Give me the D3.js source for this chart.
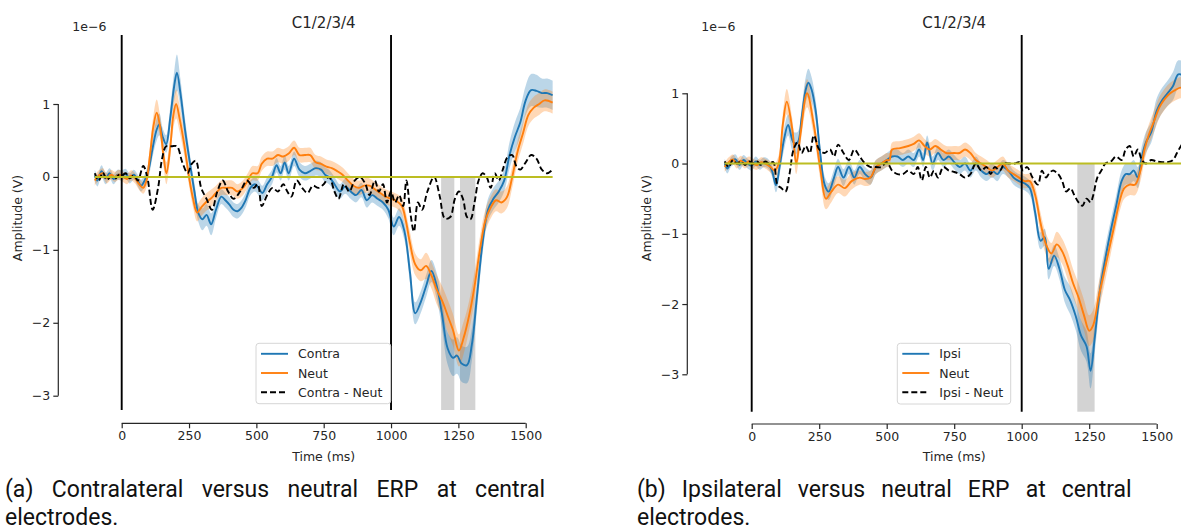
<!DOCTYPE html>
<html>
<head>
<meta charset="utf-8">
<script src="https://cdn.jsdelivr.net/npm/d3@7"></script>
<style>
	body { margin: 0; background: #fff; }
	svg { display: block; }
</style>
</head>
<body>
<svg id="fig" width="1181" height="531"></svg>
<script>
"use strict"

// values in 1e-6 V, [time ms, mean, half width of shaded band]
var contraPts = [
	[-100, 0.02, 0.08], [-90, -0.05, 0.08], [-75, 0.08, 0.08], [-60, -0.02, 0.08], [-45, 0.05, 0.07], [-30, -0.03, 0.07],
	[-15, 0.03, 0.07], [0, 0.02, 0.07], [15, 0.04, 0.07], [30, -0.02, 0.07], [45, 0.03, 0.07], [60, -0.05, 0.08],
	[72, -0.12, 0.08], [85, -0.05, 0.08], [100, 0.1, 0.1], [115, 0.4, 0.12], [130, 0.65, 0.15], [140, 0.72, 0.15],
	[152, 0.55, 0.12], [165, 0.45, 0.12], [180, 0.8, 0.15], [195, 1.25, 0.2], [205, 1.43, 0.25], [218, 1.15, 0.2],
	[235, 0.65, 0.15], [255, 0.15, 0.12], [270, -0.2, 0.12], [285, -0.5, 0.12], [300, -0.58, 0.15], [315, -0.52, 0.15],
	[332, -0.65, 0.15], [350, -0.45, 0.12], [370, -0.27, 0.1], [385, -0.32, 0.1], [400, -0.38, 0.1], [415, -0.45, 0.1],
	[430, -0.47, 0.1], [445, -0.42, 0.1], [460, -0.32, 0.1], [478, -0.15, 0.1], [495, -0.1, 0.1], [508, -0.15, 0.1],
	[522, -0.22, 0.1], [540, -0.1, 0.1], [558, 0.0, 0.1], [575, 0.16, 0.1], [590, 0.05, 0.1], [605, 0.2, 0.1],
	[620, 0.05, 0.1], [640, 0.25, 0.1], [660, 0.1, 0.1], [680, 0.05, 0.1], [700, 0.08, 0.1], [720, 0.12, 0.1],
	[740, 0.1, 0.1], [755, 0.03, 0.1], [770, 0.0, 0.1], [790, -0.1, 0.1], [810, -0.2, 0.1], [830, -0.13, 0.1],
	[850, -0.2, 0.1], [870, -0.25, 0.1], [890, -0.18, 0.1], [910, -0.32, 0.1], [930, -0.25, 0.1], [950, -0.3, 0.1],
	[970, -0.35, 0.1], [990, -0.45, 0.12], [1010, -0.68, 0.12], [1030, -0.55, 0.12], [1050, -0.75, 0.12], [1070, -1.3, 0.15],
	[1090, -1.87, 0.15], [1110, -1.72, 0.15], [1130, -1.5, 0.15], [1150, -1.29, 0.15], [1170, -1.5, 0.18], [1190, -1.9, 0.2],
	[1210, -2.35, 0.22], [1230, -2.48, 0.25], [1245, -2.45, 0.25], [1262, -2.56, 0.25], [1282, -2.58, 0.25], [1300, -2.3, 0.22],
	[1320, -1.6, 0.2], [1340, -0.9, 0.15], [1360, -0.45, 0.15], [1380, -0.3, 0.15], [1400, -0.2, 0.15], [1420, -0.05, 0.15],
	[1440, 0.3, 0.18], [1460, 0.55, 0.2], [1480, 0.75, 0.2], [1500, 1.05, 0.2], [1520, 1.19, 0.22], [1540, 1.18, 0.22],
	[1560, 1.15, 0.2], [1580, 1.15, 0.2], [1600, 1.12, 0.2]
];
var neutPtsA = [
	[-100, -0.05, 0.07], [-85, 0.02, 0.07], [-70, 0.05, 0.07], [-55, -0.02, 0.07], [-40, 0.03, 0.07], [-25, 0.0, 0.07],
	[-10, 0.03, 0.07], [5, 0.0, 0.07], [20, -0.03, 0.07], [35, 0.02, 0.07], [50, -0.02, 0.07], [65, -0.1, 0.08],
	[80, -0.15, 0.08], [92, -0.05, 0.1], [105, 0.3, 0.12], [118, 0.7, 0.15], [130, 0.88, 0.18], [142, 0.7, 0.15],
	[155, 0.3, 0.15], [166, 0.05, 0.15], [180, 0.4, 0.15], [192, 0.85, 0.18], [202, 1.0, 0.2], [215, 0.8, 0.18],
	[232, 0.45, 0.15], [250, 0.0, 0.12], [265, -0.3, 0.12], [280, -0.49, 0.12], [295, -0.42, 0.12], [312, -0.35, 0.12],
	[330, -0.3, 0.12], [350, -0.22, 0.1], [370, -0.15, 0.1], [390, -0.15, 0.1], [410, -0.15, 0.1], [430, -0.2, 0.1],
	[450, -0.15, 0.1], [468, -0.05, 0.1], [485, 0.05, 0.1], [505, 0.05, 0.1], [520, 0.18, 0.1], [540, 0.25, 0.1],
	[560, 0.25, 0.1], [580, 0.3, 0.1], [600, 0.28, 0.1], [620, 0.32, 0.1], [640, 0.4, 0.1], [660, 0.3, 0.1],
	[680, 0.3, 0.1], [700, 0.3, 0.1], [720, 0.2, 0.1], [740, 0.18, 0.1], [760, 0.14, 0.1], [780, 0.12, 0.1],
	[800, 0.08, 0.1], [820, 0.03, 0.1], [840, -0.05, 0.1], [860, -0.12, 0.1], [880, -0.15, 0.1], [900, -0.12, 0.1],
	[920, -0.12, 0.1], [940, -0.17, 0.1], [960, -0.22, 0.1], [980, -0.27, 0.1], [1000, -0.3, 0.1], [1020, -0.33, 0.1],
	[1040, -0.4, 0.12], [1055, -0.6, 0.12], [1070, -0.9, 0.15], [1090, -1.2, 0.15], [1110, -1.28, 0.15], [1130, -1.22, 0.18],
	[1150, -1.35, 0.18], [1170, -1.55, 0.2], [1190, -1.7, 0.2], [1210, -1.9, 0.22], [1230, -2.1, 0.22], [1252, -2.38, 0.22],
	[1270, -2.2, 0.22], [1290, -1.9, 0.2], [1310, -1.5, 0.2], [1330, -1.0, 0.18], [1350, -0.6, 0.15], [1370, -0.42, 0.15],
	[1390, -0.32, 0.15], [1410, -0.35, 0.15], [1430, -0.28, 0.15], [1450, 0.0, 0.15], [1470, 0.35, 0.15], [1490, 0.6, 0.15],
	[1510, 0.85, 0.15], [1530, 0.95, 0.15], [1550, 1.0, 0.15], [1570, 1.05, 0.15], [1600, 1.02, 0.15]
];
var diffPtsA = [
	[-100, 0.05], [-85, -0.05], [-70, 0.06], [-55, -0.04], [-40, 0.0], [-25, -0.03], [-10, 0.03], [0, 0.02], [15, 0.05],
	[30, -0.02], [45, 0.02], [60, -0.05], [80, 0.15], [95, 0.0], [115, -0.45], [135, -0.15], [150, 0.25], [165, 0.42],
	[185, 0.42], [205, 0.42], [225, 0.2], [245, 0.05], [260, 0.18], [275, 0.22], [295, -0.15], [315, -0.3], [335, -0.45],
	[355, -0.2], [375, -0.05], [395, -0.2], [415, -0.3], [440, -0.2], [465, -0.05], [490, -0.15], [505, -0.1], [520, -0.4],
	[540, -0.25], [560, -0.15], [580, -0.2], [600, -0.1], [615, -0.2], [630, -0.27], [650, -0.05], [670, -0.15], [690, -0.22],
	[710, -0.12], [730, -0.15], [750, -0.1], [770, 0.0], [790, -0.2], [805, -0.3], [825, -0.1], [845, -0.2], [865, -0.05],
	[885, 0.0], [905, -0.1], [920, -0.25], [940, -0.05], [955, -0.2], [970, -0.1], [985, -0.35], [1000, -0.2], [1015, -0.35],
	[1030, -0.25], [1045, -0.4], [1057, -0.05], [1072, -0.5], [1085, -0.75], [1100, -0.35], [1115, -0.45], [1135, -0.2],
	[1160, 0.0], [1180, -0.25], [1200, -0.57], [1220, -0.55], [1237, -0.3], [1252, -0.2], [1267, -0.3], [1282, -0.55],
	[1295, -0.58], [1310, -0.35], [1325, -0.05], [1340, 0.05], [1355, 0.0], [1370, -0.15], [1385, 0.05], [1400, -0.05],
	[1415, 0.1], [1432, 0.27], [1450, 0.3], [1465, 0.15], [1480, 0.1], [1500, 0.2], [1520, 0.3], [1540, 0.25], [1560, 0.1],
	[1580, 0.05], [1600, 0.1]
];
var ipsiPts = [
	[-100, 0.0, 0.07], [-90, -0.07, 0.07], [-75, 0.03, 0.07], [-60, 0.06, 0.07], [-45, -0.02, 0.07], [-30, 0.05, 0.07],
	[-15, 0.0, 0.07], [0, -0.03, 0.07], [15, 0.03, 0.07], [30, -0.02, 0.07], [45, 0.02, 0.07], [60, 0.0, 0.07],
	[75, -0.1, 0.08], [90, -0.31, 0.1], [105, 0.0, 0.12], [120, 0.35, 0.15], [135, 0.55, 0.15], [155, 0.3, 0.15],
	[170, 0.3, 0.15], [185, 0.65, 0.15], [200, 1.05, 0.18], [210, 1.15, 0.2], [222, 1.05, 0.18], [237, 0.75, 0.15],
	[255, 0.1, 0.12], [270, -0.3, 0.12], [285, -0.4, 0.12], [305, -0.2, 0.12], [320, -0.05, 0.12], [340, -0.2, 0.12],
	[360, -0.05, 0.1], [380, -0.2, 0.1], [400, -0.05, 0.1], [420, -0.15, 0.1], [440, -0.2, 0.1], [460, -0.05, 0.1],
	[480, 0.0, 0.1], [500, 0.05, 0.1], [520, 0.1, 0.1], [540, 0.1, 0.1], [560, 0.05, 0.1], [580, 0.1, 0.1],
	[600, 0.05, 0.1], [620, 0.2, 0.1], [635, 0.05, 0.1], [650, 0.3, 0.1], [670, 0.0, 0.1], [690, 0.15, 0.1],
	[710, 0.05, 0.1], [730, 0.1, 0.1], [750, 0.02, 0.1], [770, -0.05, 0.1], [790, 0.0, 0.1], [810, -0.1, 0.1],
	[830, 0.0, 0.1], [850, -0.1, 0.1], [870, -0.15, 0.1], [890, -0.1, 0.1], [910, -0.15, 0.1], [930, -0.05, 0.1],
	[950, -0.1, 0.1], [970, -0.2, 0.1], [990, -0.25, 0.1], [1010, -0.28, 0.1], [1030, -0.35, 0.1], [1050, -0.7, 0.12],
	[1070, -1.1, 0.12], [1085, -1.05, 0.12], [1100, -1.5, 0.15], [1120, -1.31, 0.15], [1140, -1.5, 0.15], [1160, -1.8, 0.18],
	[1180, -1.95, 0.2], [1200, -2.17, 0.2], [1220, -2.45, 0.22], [1240, -2.6, 0.22], [1255, -2.95, 0.25], [1270, -2.5, 0.22],
	[1290, -1.8, 0.2], [1310, -1.35, 0.18], [1330, -0.95, 0.15], [1350, -0.6, 0.15], [1370, -0.25, 0.15], [1385, -0.15, 0.15],
	[1400, -0.15, 0.15], [1415, -0.1, 0.15], [1430, -0.2, 0.15], [1445, 0.1, 0.15], [1460, 0.3, 0.15], [1480, 0.45, 0.15],
	[1500, 0.75, 0.18], [1520, 0.9, 0.18], [1540, 1.0, 0.18], [1560, 1.1, 0.2], [1580, 1.27, 0.2], [1600, 1.25, 0.2]
];
var neutPtsB = [
	[-100, -0.05, 0.07], [-85, 0.02, 0.07], [-70, 0.06, 0.07], [-55, 0.0, 0.07], [-40, 0.04, 0.07], [-25, 0.0, 0.07],
	[-10, 0.03, 0.07], [5, 0.0, 0.07], [20, -0.02, 0.07], [35, 0.02, 0.07], [50, 0.0, 0.07], [70, -0.05, 0.08],
	[85, -0.1, 0.1], [100, 0.0, 0.12], [115, 0.55, 0.15], [130, 0.88, 0.18], [150, 0.5, 0.15], [165, 0.0, 0.15],
	[180, 0.4, 0.15], [205, 1.0, 0.2], [230, 0.55, 0.15], [255, -0.1, 0.15], [275, -0.5, 0.15], [295, -0.4, 0.15],
	[320, -0.3, 0.12], [345, -0.35, 0.12], [370, -0.25, 0.12], [400, -0.2, 0.1], [420, -0.22, 0.1], [440, -0.2, 0.1],
	[460, -0.05, 0.1], [480, 0.0, 0.1], [500, 0.05, 0.1], [510, 0.05, 0.1], [520, 0.2, 0.1], [550, 0.22, 0.1],
	[580, 0.25, 0.1], [600, 0.28, 0.1], [620, 0.33, 0.1], [640, 0.25, 0.1], [660, 0.2, 0.1], [680, 0.25, 0.1],
	[700, 0.2, 0.1], [720, 0.15, 0.1], [750, 0.15, 0.1], [770, 0.15, 0.1], [790, 0.2, 0.1], [810, 0.15, 0.1],
	[830, 0.05, 0.1], [850, 0.0, 0.1], [870, -0.05, 0.1], [890, -0.1, 0.1], [910, -0.05, 0.1], [930, 0.0, 0.1],
	[950, -0.1, 0.1], [970, -0.15, 0.1], [990, -0.2, 0.1], [1010, -0.25, 0.1], [1030, -0.25, 0.1], [1050, -0.45, 0.12],
	[1070, -0.85, 0.15], [1090, -1.15, 0.15], [1110, -1.28, 0.15], [1130, -1.15, 0.18], [1150, -1.25, 0.18], [1170, -1.45, 0.2],
	[1190, -1.7, 0.2], [1210, -1.9, 0.2], [1230, -2.15, 0.22], [1250, -2.38, 0.22], [1265, -2.3, 0.22], [1285, -1.9, 0.2],
	[1305, -1.55, 0.2], [1325, -1.2, 0.18], [1345, -0.85, 0.15], [1365, -0.5, 0.15], [1380, -0.35, 0.15], [1400, -0.3, 0.15],
	[1420, -0.3, 0.15], [1440, -0.1, 0.15], [1455, 0.2, 0.15], [1470, 0.4, 0.15], [1490, 0.6, 0.15], [1510, 0.8, 0.15],
	[1530, 0.92, 0.15], [1550, 1.0, 0.15], [1570, 1.05, 0.15], [1590, 1.08, 0.15], [1600, 1.05, 0.15]
];
var diffPtsB = [
	[-100, 0.03], [-85, -0.05], [-70, 0.05], [-55, 0.0], [-40, 0.03], [-25, -0.02], [-10, 0.03], [5, 0.0], [20, 0.03],
	[35, -0.02], [50, 0.03], [65, 0.0], [80, 0.02], [95, -0.3], [110, -0.35], [125, -0.4], [140, -0.15], [155, 0.2],
	[170, 0.3], [185, 0.15], [200, 0.25], [215, 0.15], [230, 0.4], [250, 0.2], [270, 0.15], [290, 0.2], [305, 0.1],
	[320, 0.27], [340, 0.15], [360, 0.05], [380, 0.2], [400, 0.1], [420, 0.0], [440, -0.05], [460, -0.05], [480, -0.05],
	[500, 0.02], [520, -0.1], [540, -0.15], [560, -0.15], [580, -0.1], [600, -0.15], [615, -0.05], [630, -0.24], [645, -0.05],
	[660, -0.2], [675, -0.1], [690, -0.2], [710, -0.05], [730, -0.1], [750, -0.12], [770, -0.15], [790, -0.2], [810, -0.15],
	[830, 0.0], [850, -0.1], [870, -0.05], [885, -0.15], [900, -0.05], [920, -0.1], [935, 0.0], [955, 0.0], [975, 0.0],
	[990, 0.02], [1005, -0.1], [1020, -0.05], [1040, -0.2], [1060, -0.3], [1075, -0.1], [1090, -0.2], [1100, -0.15],
	[1115, -0.1], [1135, -0.15], [1150, -0.25], [1165, -0.4], [1180, -0.35], [1195, -0.45], [1210, -0.55], [1225, -0.6],
	[1240, -0.5], [1255, -0.55], [1265, -0.45], [1280, -0.2], [1295, -0.1], [1310, 0.0], [1330, 0.03], [1350, 0.1],
	[1370, 0.05], [1385, 0.2], [1400, 0.25], [1415, 0.1], [1430, 0.2], [1445, 0.05], [1460, 0.0], [1480, 0.05],
	[1500, 0.03], [1520, 0.02], [1540, 0.02], [1560, 0.05], [1575, 0.15], [1590, 0.25], [1600, 0.3]
];

// significant windows (ms)
var sigSpansA = [[1186, 1235], [1256, 1313]];
var sigSpansB = [[1206, 1270]];

var xTicks = [0, 250, 500, 750, 1000, 1250, 1500];
var yTicks = [-3, -2, -1, 0, 1];
var markerTimes = [0, 1000];
var labelsA = ["Contra", "Neut", "Contra - Neut"];
var labelsB = ["Ipsi", "Neut", "Ipsi - Neut"];
var captionA = ["(a) Contralateral versus neutral ERP at central", "electrodes."];
var captionB = ["(b)  Ipsilateral versus neutral ERP at central", "electrodes."];

var BLUE = "#1f77b4", ORANGE = "#ff7f0e", OLIVE = "#bcbd22", INK = "#262626";
var FONT = "'DejaVu Sans', sans-serif";
var CAPFONT = "Roboto, 'Open Sans', sans-serif";

function ErpPanel(svg, opt) {
	this.svg = svg;
	this.opt = opt;
	this.x = d3.scaleLinear().domain([0, 1500]).range([opt.x0, opt.x1500]);
	this.y = d3.scaleLinear().domain([-3, 1]).range([opt.yM3, opt.y1]);
}

ErpPanel.prototype.label = function(g, x, y, s, size) {
	return g.append("text")
		.attr("x", x).attr("y", y)
		.attr("font-family", FONT).attr("font-size", size).attr("fill", INK)
		.text(s);
}

ErpPanel.prototype.create = function() {
	var o = this.opt, x = this.x, y = this.y;
	var g = this.svg.append("g");
	var yTop = o.top, yBot = o.bottom;

	// grey windows from 0 down to the bottom of the axes
	g.selectAll("rect.sig")
		.data(o.spans)
		.enter().append("rect")
		.attr("class", "sig")
		.attr("x", function(d) { return x(d[0]); })
		.attr("width", function(d) { return x(d[1]) - x(d[0]); })
		.attr("y", y(0))
		.attr("height", yBot - y(0))
		.attr("fill", "#d3d3d3")
		;

	var curve = d3.curveCatmullRom.alpha(0.5);
	var band = d3.area()
		.x(function(d) { return x(d[0]); })
		.y0(function(d) { return y(d[1] - d[2]); })
		.y1(function(d) { return y(d[1] + d[2]); })
		.curve(curve);
	var line = d3.line()
		.x(function(d) { return x(d[0]); })
		.y(function(d) { return y(d[1]); })
		.curve(curve);

	g.append("path").attr("d", band(o.series[0])).attr("fill", BLUE).attr("fill-opacity", 0.3);
	g.append("path").attr("d", band(o.series[1])).attr("fill", ORANGE).attr("fill-opacity", 0.3);
	g.append("path").attr("d", line(o.series[0]))
		.attr("fill", "none").attr("stroke", BLUE).attr("stroke-width", 1.9);
	g.append("path").attr("d", line(o.series[1]))
		.attr("fill", "none").attr("stroke", ORANGE).attr("stroke-width", 1.9);
	g.append("path").attr("d", line(o.diff))
		.attr("fill", "none").attr("stroke", "#000").attr("stroke-width", 1.9)
		.attr("stroke-dasharray", "6,3");

	g.selectAll("line.mark")
		.data(markerTimes)
		.enter().append("line")
		.attr("class", "mark")
		.attr("x1", function(d) { return x(d); })
		.attr("x2", function(d) { return x(d); })
		.attr("y1", yTop)
		.attr("y2", yBot)
		.attr("stroke", "#000")
		.attr("stroke-width", 1.9)
		;

	var tExtent = d3.extent(o.diff, function(d) { return d[0]; });
	g.append("line")
		.attr("x1", x(tExtent[0]))
		.attr("x2", x(tExtent[1]))
		.attr("y1", y(0))
		.attr("y2", y(0))
		.attr("stroke", OLIVE)
		.attr("stroke-width", 2)
		;

	// trimmed spines
	var xAxis = d3.axisBottom(x).tickValues(xTicks).tickSize(5).tickPadding(3)
		.tickFormat(d3.format("d"));
	var yAxis = d3.axisLeft(y).tickValues(yTicks).tickSize(5).tickPadding(3)
		.tickFormat(function(d) { return d < 0 ? "\u2212" + (-d) : d; });
	var gx = g.append("g")
		.attr("transform", "translate(0," + o.axisY + ")")
		.call(xAxis);
	var gy = g.append("g")
		.attr("transform", "translate(" + o.axisX + ",0)")
		.call(yAxis);
	[gx, gy].forEach(function(a) {
		a.attr("font-family", FONT).attr("font-size", 12.5);
		a.select(".domain").attr("stroke", INK).attr("stroke-width", 1.2);
		a.selectAll(".tick line").attr("stroke", INK).attr("stroke-width", 1.2);
		a.selectAll("text").attr("fill", INK);
	});
	gx.select(".domain").attr("d", "M" + x(0) + ",0H" + x(1500));
	gy.select(".domain").attr("d", "M0," + y(-3) + "V" + y(1));

	var cx = (x(tExtent[0]) + x(tExtent[1])) / 2;
	this.label(g, cx, 28, "C1/2/3/4", 15).attr("text-anchor", "middle");
	this.label(g, o.axisX + 14, 31, "1e\u22126", 12.5);
	this.label(g, cx, 461, "Time (ms)", 12.5).attr("text-anchor", "middle");
	this.label(g, 0, 0, "Amplitude (V)", 12.5)
		.attr("text-anchor", "middle")
		.attr("transform", "translate(" + (o.axisX - 36) + ",218) rotate(-90)");

	// legend
	var L = o.legend;
	var lg = g.append("g");
	lg.append("rect")
		.attr("x", L.x).attr("y", L.y).attr("width", L.w).attr("height", L.h)
		.attr("rx", 3)
		.attr("fill", "#fff").attr("fill-opacity", 0.8)
		.attr("stroke", "#d6d6d6").attr("stroke-width", 1)
		;
	var styles = [[BLUE, null], [ORANGE, null], ["#000", "6,3"]];
	var self = this;
	o.labels.forEach(function(lab, i) {
		var ry = L.y + 10.5 + i * 19.2;
		lg.append("line")
			.attr("x1", L.x + 5).attr("x2", L.x + 32)
			.attr("y1", ry).attr("y2", ry)
			.attr("stroke", styles[i][0]).attr("stroke-width", 1.9)
			.attr("stroke-dasharray", styles[i][1])
			;
		self.label(lg, L.x + 42, ry + 4.5, lab, 12.5);
	});

	// caption under the panel, first line justified to the column
	o.caption.forEach(function(s, i) {
		var t = g.append("text")
			.attr("x", o.capX).attr("y", 497 + i * 27.5)
			.attr("font-family", CAPFONT).attr("font-size", 23).attr("fill", "#111")
			.text(s);
		if (i == 0) {
			var w = t.node().getComputedTextLength();
			var n = s.split(" ").length - 1;
			t.attr("word-spacing", Math.max(0, (o.capW - w) / n));
		}
	});
}

var svg = d3.select("#fig");

new ErpPanel(svg, {
	x0: 121.7, x1500: 525.7, yM3: 395.7, y1: 104,
	top: 35, bottom: 410, axisX: 58.3, axisY: 423.3,
	series: [contraPts, neutPtsA], diff: diffPtsA, spans: sigSpansA,
	labels: labelsA, legend: {x: 256, y: 343.3, w: 134.7, h: 60.4},
	caption: captionA, capX: 5, capW: 540
}).create();

new ErpPanel(svg, {
	x0: 751.7, x1500: 1156.7, yM3: 374.3, y1: 93.3,
	top: 35, bottom: 411.7, axisX: 687.3, axisY: 424,
	series: [ipsiPts, neutPtsB], diff: diffPtsB, spans: sigSpansB,
	labels: labelsB, legend: {x: 897.3, y: 343.3, w: 113.4, h: 60.7},
	caption: captionB, capX: 637, capW: 505
}).create();
</script>
</body>
</html>
